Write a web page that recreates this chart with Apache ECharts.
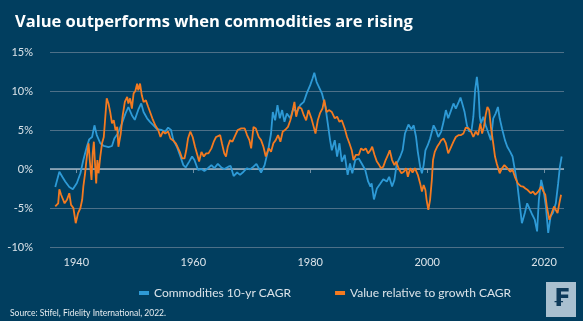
<!DOCTYPE html>
<html>
<head>
<meta charset="utf-8">
<script src="https://cdn.jsdelivr.net/npm/echarts@6/dist/echarts.min.js"></script>
<style>
html,body{margin:0;padding:0;background:#013e5f;}
#c{width:583px;height:321px;}
</style>
</head>
<body>
<div id="c"></div>
<script>
const titleText = 'Value outperforms when commodities are rising';
const sourceText = 'Source: Stifel, Fidelity International, 2022.';
const seriesNames = ['Commodities 10-yr CAGR', 'Value relative to growth CAGR'];
const xTicks = [1940, 1960, 1980, 2000, 2020];
const yTicks = [-10, -5, 0, 5, 10, 15];

const commYears = [1936.4,1937.1,1937.6,1938.1,1938.8,1939.4,1940.1,1940.7,1941.2,1941.8,1942.2,1942.7,1943.1,1943.5,1944.1,1944.7,1945.5,1946.1,1946.5,1947.1,1947.8,1948.4,1948.9,1949.5,1950.0,1950.6,1951.1,1951.5,1952.1,1952.6,1953.2,1953.8,1954.6,1955.2,1955.7,1956.2,1956.6,1957.2,1957.8,1958.3,1958.7,1959.3,1959.8,1960.2,1960.8,1961.4,1961.9,1962.5,1963.1,1963.6,1964.2,1964.8,1965.3,1966.0,1966.4,1966.9,1967.5,1968.0,1968.6,1969.2,1969.7,1970.3,1970.8,1971.2,1971.6,1972.2,1972.8,1973.3,1973.6,1974.0,1974.4,1974.8,1975.2,1975.6,1976.0,1976.6,1977.1,1977.7,1978.3,1978.9,1979.4,1980.0,1980.4,1980.7,1981.1,1981.4,1982.0,1982.6,1983.0,1983.4,1983.7,1984.2,1984.6,1985.0,1985.4,1985.9,1986.4,1986.8,1987.2,1987.7,1988.3,1988.8,1989.4,1989.9,1990.3,1990.5,1990.9,1991.4,1992.0,1992.5,1993.1,1993.5,1994.0,1994.4,1994.8,1995.4,1995.8,1996.2,1996.8,1997.3,1997.7,1998.1,1998.4,1998.8,1999.1,1999.4,1999.7,2000.1,2000.5,2001.1,2001.5,2001.9,2002.4,2002.8,2003.2,2003.6,2004.1,2004.5,2004.9,2005.4,2005.7,2006.0,2006.4,2006.8,2007.2,2007.6,2007.9,2008.2,2008.5,2008.8,2009.0,2009.2,2009.6,2010.0,2010.5,2010.9,2011.3,2011.7,2012.1,2012.4,2012.8,2013.3,2013.7,2014.2,2014.6,2014.9,2015.4,2015.8,2016.2,2016.7,2017.1,2017.6,2018.0,2018.4,2018.8,2019.1,2019.5,2019.9,2020.3,2020.7,2021.1,2021.5,2022.0,2022.4,2022.7,2023.0];
const commValues = [-2.3,-0.35,-1.0,-1.6,-2.3,-2.6,-1.8,-0.55,1.15,2.85,3.8,4.1,5.6,4.35,3.3,2.95,2.8,2.95,3.9,4.55,5.85,7.1,7.95,6.9,6.3,7.6,8.4,7.3,6.5,6.05,5.6,5.1,5.0,4.8,5.3,5.0,3.7,2.85,1.6,0.5,0.2,0.95,1.6,1.15,-0.1,0.0,-0.25,0.1,0.5,0.1,0.65,0.2,0.0,0.3,0.4,-0.9,-0.45,-0.75,-0.35,0.1,-0.05,0.3,0.65,0.1,-0.45,0.5,2.4,4.55,7.3,6.25,8.2,6.5,7.55,6.05,7.1,6.5,7.75,7.3,8.2,8.6,9.7,10.75,11.6,12.35,11.15,10.95,9.7,7.95,5.85,3.7,2.4,3.7,1.6,3.3,0.95,1.8,-0.75,0.7,-0.55,1.15,1.35,0.7,-0.1,-1.6,-2.25,-1.85,-3.9,-2.5,-1.85,-1.3,-1.6,-1.0,-2.25,-1.4,0.7,1.6,2.4,4.55,5.7,5.1,5.6,4.1,2.2,0.3,-0.55,0.5,2.4,3.05,3.9,5.6,5.0,4.1,4.8,6.05,7.55,6.5,7.55,8.4,7.75,8.6,9.15,8.4,7.3,5.6,4.8,5.0,6.7,10.1,11.8,9.7,6.7,5.85,6.7,5.6,4.55,3.7,6.5,7.1,7.95,6.5,5.2,3.7,2.85,2.2,1.6,0.3,-1.85,-4.4,-6.95,-5.65,-4.4,-5.25,-5.9,-6.5,-8.0,-3.95,-1.4,-2.7,-4.8,-8.2,-6.1,-5.65,-4.4,-1.85,0.3,1.6];

const valueYears = [1936.4,1936.9,1937.1,1937.4,1937.7,1938.0,1938.4,1938.8,1939.1,1939.5,1939.9,1940.3,1940.7,1941.0,1941.2,1941.5,1941.8,1942.1,1942.3,1942.6,1942.8,1943.0,1943.2,1943.4,1943.6,1943.8,1944.1,1944.4,1944.7,1945.0,1945.2,1945.5,1945.8,1946.1,1946.4,1946.7,1947.0,1947.2,1947.6,1947.9,1948.3,1948.7,1948.9,1949.2,1949.5,1949.8,1950.1,1950.4,1950.6,1950.9,1951.2,1951.5,1951.9,1952.3,1952.6,1953.0,1953.5,1954.0,1954.4,1954.8,1955.2,1955.7,1956.1,1956.5,1957.0,1957.3,1957.7,1958.1,1958.5,1958.8,1959.1,1959.5,1959.9,1960.3,1960.7,1961.0,1961.4,1961.8,1962.2,1962.6,1963.1,1963.5,1963.9,1964.2,1964.6,1964.9,1965.3,1965.6,1965.9,1966.3,1966.7,1967.2,1967.6,1968.2,1968.8,1969.2,1969.6,1969.9,1970.3,1970.7,1971.2,1971.6,1972.0,1972.4,1972.9,1973.3,1973.7,1974.1,1974.5,1974.9,1975.3,1975.7,1976.2,1976.6,1976.9,1977.3,1977.6,1978.0,1978.5,1978.9,1979.3,1979.7,1980.2,1980.6,1980.9,1981.3,1981.7,1982.1,1982.4,1982.8,1983.2,1983.7,1984.2,1984.6,1985.0,1985.4,1985.9,1986.3,1986.7,1987.1,1987.4,1987.8,1988.3,1988.7,1989.1,1989.5,1989.9,1990.3,1990.6,1991.0,1991.4,1991.8,1992.1,1992.5,1992.9,1993.3,1993.6,1994.0,1994.4,1994.7,1995.1,1995.6,1996.0,1996.4,1996.7,1997.1,1997.5,1997.9,1998.4,1998.8,1999.1,1999.4,1999.7,1999.9,2000.2,2000.5,2000.8,2001.0,2001.3,2001.7,2002.1,2002.4,2002.8,2003.2,2003.6,2004.1,2004.5,2004.9,2005.4,2005.8,2006.2,2006.6,2007.1,2007.5,2007.9,2008.3,2008.7,2009.1,2009.4,2009.7,2010.0,2010.3,2010.6,2010.9,2011.3,2011.6,2011.9,2012.4,2012.8,2013.2,2013.7,2014.2,2014.6,2015.0,2015.5,2016.0,2016.4,2016.8,2017.2,2017.7,2018.1,2018.5,2019.0,2019.5,2019.9,2020.2,2020.5,2020.9,2021.3,2021.7,2022.0,2022.3,2022.6,2022.9];
const valueValues = [-4.8,-4.4,-2.6,-3.3,-3.1,-4.4,-3.95,-3.1,-4.6,-5.0,-6.95,-5.65,-5.0,-3.95,-2.25,-0.55,1.6,3.3,1.15,-1.4,2.0,3.5,0.7,-1.85,1.15,-0.55,1.6,3.3,4.1,7.1,9.05,8.4,7.3,5.85,6.25,5.0,5.4,2.85,4.55,6.7,8.6,9.25,8.4,9.05,7.75,9.7,10.0,10.95,10.1,10.95,9.45,8.6,8.8,7.95,7.95,6.5,5.6,5.0,4.1,4.8,4.55,4.8,3.9,3.7,3.3,3.5,2.2,1.35,1.35,2.4,3.9,4.8,4.1,2.85,1.8,0.95,2.2,1.6,2.0,2.0,2.65,3.5,4.1,4.35,4.35,3.3,2.0,1.6,2.85,3.7,3.5,4.35,5.0,5.2,5.2,4.35,3.7,2.65,5.4,5.2,4.1,3.7,2.85,1.6,2.65,2.2,3.3,3.7,4.35,3.5,4.8,5.0,5.4,6.25,7.1,8.6,6.7,7.95,7.75,6.9,6.25,7.55,6.5,5.4,4.55,6.25,7.2,7.75,8.9,7.3,7.55,7.3,6.5,6.7,6.05,6.25,5.2,4.1,3.3,2.4,1.15,1.8,1.8,2.65,2.4,2.65,2.0,2.4,2.85,1.8,0.95,0.5,0.1,0.3,1.15,1.8,2.4,1.15,0.5,0.95,0.1,-0.55,-0.35,0.1,-1.0,0.1,-0.45,0.1,-0.75,-1.85,-2.9,-2.05,-2.7,-3.95,-5.25,-3.95,-1.4,1.15,2.2,2.85,3.3,3.7,3.9,3.3,2.0,2.85,3.5,4.1,4.35,4.35,4.55,5.3,5.2,4.8,4.1,4.8,4.35,5.85,4.55,5.4,6.9,7.95,7.55,5.4,3.3,1.6,0.7,-0.55,0.1,0.5,0.1,-0.35,-0.1,-1.0,-1.85,-2.2,-2.25,-2.5,-2.7,-3.1,-2.9,-3.3,-2.9,-2.25,-2.9,-3.3,-5.0,-6.5,-5.65,-4.8,-5.25,-5.65,-4.4,-3.3];

const pair = (xs, ys) => xs.map((x, i) => [x, ys[i]]);
const txt = '#dbe3e9';
const font = 'Lato, "Open Sans", sans-serif';

const chart = echarts.init(document.getElementById('c'), null, {renderer: 'canvas'});
chart.setOption({
  backgroundColor: '#013e5f',
  animation: false,
  title: {
    text: titleText, left: 10, top: 9,
    textStyle: {color: '#ffffff', fontSize: 16.5, fontWeight: 'bold', fontFamily: '"Open Sans", sans-serif'}
  },
  legend: {
    left: 134, top: 282,
    icon: 'rect', itemWidth: 10, itemHeight: 4, itemGap: 44,
    textStyle: {color: txt, fontSize: 12, fontFamily: font},
    data: seriesNames
  },
  grid: {left: 50, right: 19, top: 52, bottom: 74},
  xAxis: {
    type: 'value', min: 1935.5, max: 2023.4,
    axisLine: {show: false},
    splitLine: {show: false},
    axisTick: {show: true, length: 4, customValues: xTicks, lineStyle: {color: '#6f8ea3'}},
    axisLabel: {customValues: xTicks, formatter: v => String(v), color: txt, fontSize: 11, margin: 10, fontFamily: font}
  },
  yAxis: {
    type: 'value', min: -10, max: 15, interval: 5,
    axisLine: {show: false}, axisTick: {show: false},
    axisLabel: {formatter: '{value}%', color: txt, fontSize: 11, margin: 17, fontFamily: font},
    splitLine: {lineStyle: {color: '#4d7088', width: 1}}
  },
  graphic: [
    {type: 'text', left: 10, top: 309, style: {text: sourceText, fill: '#e6ecf0', fontSize: 8.5, fontFamily: font}},
    {type: 'rect', shape: {x: 546, y: 282, width: 30, height: 35}, style: {fill: '#a9c0d0'}},
    {type: 'text', x: 561, y: 300, style: {text: '\u20a3', fill: '#0d3a5a', fontSize: 24, fontWeight: 'bold', fontFamily: 'DejaVu Sans', align: 'center', verticalAlign: 'middle'}}
  ],
  series: [
    {
      name: seriesNames[0], type: 'line', data: pair(commYears, commValues),
      showSymbol: false, color: '#2e9ad6', lineStyle: {width: 1.8}, z: 3,
      markLine: {silent: true, symbol: 'none', label: {show: false},
        lineStyle: {color: '#9fb3c2', width: 1.5, type: 'solid'}, data: [{yAxis: 0}], z: 1}
    },
    {
      name: seriesNames[1], type: 'line', data: pair(valueYears, valueValues),
      showSymbol: false, color: '#f47a20', lineStyle: {width: 1.8}, z: 4
    }
  ]
});
</script>
</body>
</html>
